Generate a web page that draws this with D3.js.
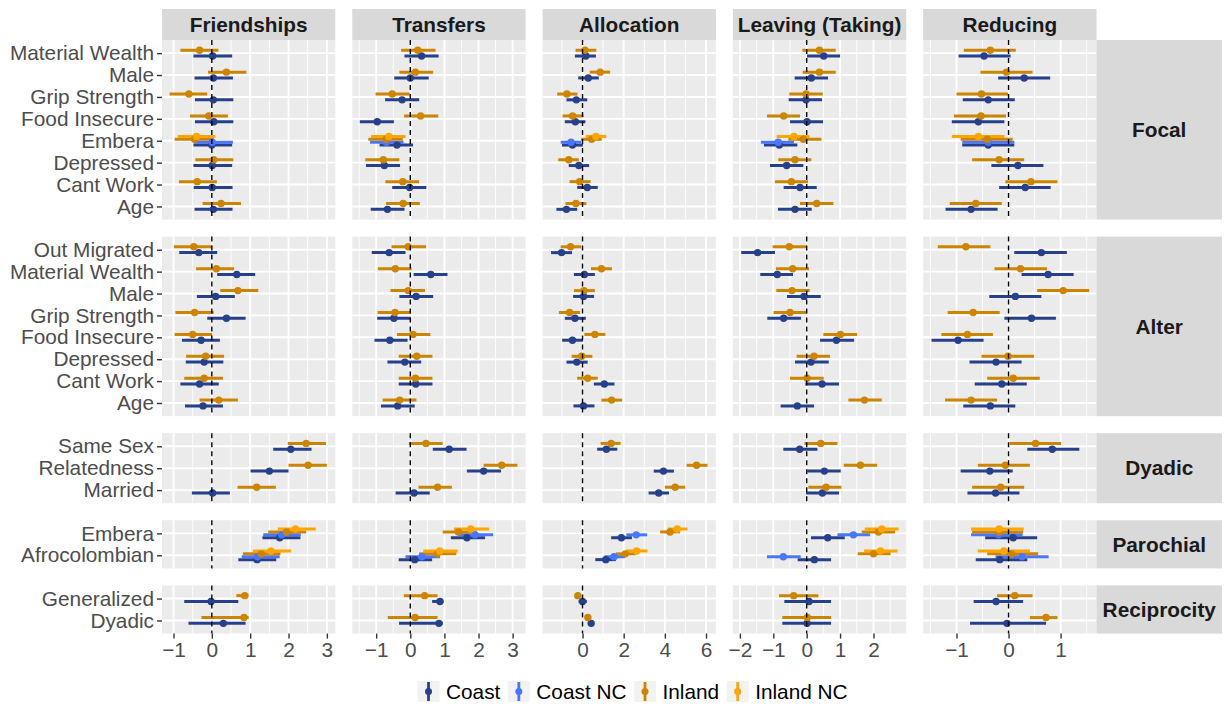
<!DOCTYPE html>
<html>
<head>
<meta charset="utf-8">
<script src="https://cdn.jsdelivr.net/npm/d3@7"></script>
<style>
body { margin: 0; background: #fff; }
text { font-family: "Liberation Sans", Arial, sans-serif; }
</style>
</head>
<body>
<svg id="chart" width="1226" height="704"></svg>
<script>
//
// data
//
var columns = ["Friendships", "Transfers", "Allocation", "Leaving (Taking)", "Reducing"];
var rowGroups = ["Focal", "Alter", "Dyadic", "Parochial", "Reciprocity"];
var focalVars = ["Material Wealth", "Male", "Grip Strength", "Food Insecure", "Embera", "Depressed", "Cant Work", "Age"];
var alterVars = ["Out Migrated", "Material Wealth", "Male", "Grip Strength", "Food Insecure", "Depressed", "Cant Work", "Age"];
var dyadicVars = ["Same Sex", "Relatedness", "Married"];
var parochialVars = ["Embera", "Afrocolombian"];
var reciprocityVars = ["Generalized", "Dyadic"];
var rowVars = [focalVars, alterVars, dyadicVars, parochialVars, reciprocityVars];
// rows that also have the "NC" series
var ncRows = [["Focal", "Embera"], ["Parochial", "Embera"], ["Parochial", "Afrocolombian"]];

var series = ["Coast", "Coast NC", "Inland", "Inland NC"];
var seriesColors = ["#27408B", "#4876FF", "#CD8500", "#FFA500"];

var xTicks = [[-1, 0, 1, 2, 3], [-1, 0, 1, 2, 3], [0, 2, 4, 6], [-2, -1, 0, 1, 2], [-1, 0, 1]];
var xDomains = [[-1.30, 3.22], [-1.70, 3.38], [-1.94, 6.48], [-2.21, 2.98], [-1.64, 1.69]];

// [estimate, lower, upper], rows in order focal, alter, dyadic, parochial, reciprocity
var friendshipsCoast = [
  [0.02,-0.48,0.53],[0.04,-0.45,0.55],[0.04,-0.44,0.56],[0.05,-0.44,0.56],[0.0,-0.48,0.53],[0.01,-0.48,0.53],[0.01,-0.47,0.54],[0.04,-0.45,0.54],
  [-0.34,-0.85,0.14],[0.65,0.14,1.13],[0.10,-0.39,0.60],[0.38,-0.12,0.88],[-0.28,-0.78,0.21],[-0.20,-0.68,0.30],[-0.32,-0.82,0.18],[-0.23,-0.70,0.29],
  [2.06,1.60,2.60],[1.50,1.01,2.00],[0.02,-0.52,0.47],
  [1.77,1.32,2.31],[1.18,0.69,1.68],
  [-0.02,-0.72,0.69],[0.30,-0.61,0.88]];
var friendshipsInland = [
  [-0.32,-0.82,0.17],[0.38,-0.10,0.90],[-0.60,-1.10,-0.12],[-0.08,-0.57,0.42],[-0.45,-0.97,0.05],[0.05,-0.43,0.56],[-0.38,-0.86,0.13],[0.24,-0.24,0.76],
  [-0.47,-0.99,0.01],[0.12,-0.41,0.58],[0.68,0.22,1.21],[-0.45,-0.95,0.05],[-0.50,-0.97,0.01],[-0.16,-0.67,0.32],[-0.20,-0.72,0.29],[0.18,-0.32,0.68],
  [2.46,1.98,2.98],[2.51,2.00,3.00],[1.17,0.67,1.67],
  [1.95,1.47,2.46],[1.29,0.81,1.79],
  [0.86,0.64,0.95],[0.84,-0.27,0.96]];
var friendshipsCoastNC = [[0.01,-0.46,0.55],[1.82,1.34,2.32],[1.19,0.78,1.77]];
var friendshipsInlandNC = [[-0.40,-0.89,0.09],[2.18,1.72,2.71],[1.54,1.07,2.07]];

var transfersCoast = [
  [0.33,-0.17,0.83],[0.0,-0.47,0.54],[-0.24,-0.74,0.26],[-0.97,-1.48,-0.48],[-0.39,-0.90,0.08],[-0.76,-1.30,-0.30],[-0.02,-0.53,0.47],[-0.67,-1.16,-0.17],
  [-0.62,-1.13,-0.14],[0.60,0.10,1.09],[0.17,-0.32,0.67],[-0.48,-0.97,0.01],[-0.60,-1.05,-0.08],[-0.16,-0.67,0.32],[0.16,-0.34,0.65],[-0.37,-0.86,0.13],
  [1.14,0.66,1.65],[2.15,1.66,2.66],[0.11,-0.43,0.57],
  [1.66,1.19,2.19],[0.13,-0.34,0.64],
  [0.87,0.64,0.97],[0.84,-0.33,0.95]];
var transfersInland = [
  [0.22,-0.27,0.74],[0.15,-0.32,0.67],[-0.53,-1.02,-0.02],[0.30,-0.18,0.82],[-0.71,-1.23,-0.22],[-0.79,-1.32,-0.32],[-0.22,-0.73,0.26],[-0.21,-0.71,0.28],
  [-0.06,-0.55,0.46],[-0.44,-0.95,0.04],[-0.06,-0.58,0.43],[-0.45,-0.96,0.02],[0.08,-0.39,0.59],[0.19,-0.34,0.65],[0.15,-0.34,0.65],[-0.31,-0.81,0.18],
  [0.46,-0.04,0.95],[2.68,2.15,3.14],[0.80,0.24,1.22],
  [1.41,0.95,1.94],[0.79,0.26,1.35],
  [0.42,-0.19,0.80],[0.14,-0.66,0.80]];
var transfersCoastNC = [[-0.70,-1.18,-0.20],[1.90,1.40,2.43],[0.34,-0.14,0.87]];
var transfersInlandNC = [[-0.63,-1.15,-0.14],[1.77,1.28,2.31],[0.86,0.38,1.39]];

var allocationCoast = [
  [0.16,-0.37,0.65],[0.28,-0.21,0.79],[-0.30,-0.78,0.23],[-0.35,-0.86,0.14],[-0.49,-1.0,0.02],[-0.18,-0.67,0.32],[0.23,-0.26,0.74],[-0.78,-1.27,-0.26],
  [-1.02,-1.53,-0.51],[0.09,-0.42,0.60],[0.05,-0.46,0.56],[-0.37,-0.86,0.16],[-0.49,-0.99,0.02],[-0.28,-0.78,0.25],[1.06,0.55,1.55],[0.05,-0.44,0.58],
  [1.16,0.71,1.69],[3.93,3.46,4.44],[3.70,3.21,4.20],
  [1.89,1.39,2.40],[1.13,0.62,1.62],
  [0.0,-0.19,0.21],[0.42,0.29,0.55]];
var allocationInland = [
  [0.12,-0.34,0.67],[0.86,0.35,1.34],[-0.76,-1.23,-0.25],[-0.48,-0.97,0.05],[0.44,-0.07,0.93],[-0.67,-1.18,-0.18],[-0.14,-0.63,0.39],[-0.32,-0.83,0.19],
  [-0.58,-1.06,-0.07],[0.92,0.41,1.43],[0.07,-0.42,0.60],[-0.63,-1.15,-0.12],[0.60,0.09,1.11],[-0.04,-0.53,0.48],[0.25,-0.26,0.74],[1.41,0.92,1.92],
  [1.39,0.88,1.85],[5.54,5.06,6.07],[4.50,4.00,4.99],
  [4.25,3.77,4.74],[2.08,1.62,2.59],
  [-0.23,-0.36,-0.09],[0.26,0.14,0.40]];
var allocationCoastNC = [[-0.56,-1.06,-0.07],[2.61,2.13,3.14],[1.53,1.06,2.06]];
var allocationInlandNC = [[0.65,0.16,1.16],[4.60,4.14,5.10],[2.63,2.13,3.16]];

var leavingCoast = [
  [0.51,0.01,1.0],[0.14,-0.36,0.64],[-0.02,-0.54,0.46],[0.01,-0.50,0.49],[-0.82,-1.28,-0.28],[-0.60,-1.10,-0.10],[-0.20,-0.69,0.30],[-0.35,-0.86,0.15],
  [-1.47,-1.96,-0.95],[-0.88,-1.39,-0.41],[-0.08,-0.59,0.42],[-0.69,-1.18,-0.17],[0.89,0.40,1.42],[0.13,-0.35,0.66],[0.46,-0.04,0.97],[-0.28,-0.78,0.22],
  [-0.21,-0.70,0.32],[0.53,0.02,1.02],[0.47,-0.02,0.97],
  [0.63,0.13,1.14],[0.23,-0.27,0.73],
  [0.07,-0.67,0.73],[0.01,-0.73,0.73]];
var leavingInland = [
  [0.38,-0.13,0.87],[0.38,-0.12,0.87],[-0.02,-0.52,0.48],[-0.69,-1.19,-0.20],[-0.10,-0.55,0.44],[-0.35,-0.85,0.14],[-0.46,-0.95,0.04],[0.30,-0.20,0.80],
  [-0.52,-1.02,-0.02],[-0.42,-0.92,0.07],[-0.44,-0.91,0.09],[-0.50,-0.99,0.01],[1.01,0.50,1.51],[0.22,-0.30,0.70],[0.01,-0.50,0.51],[1.73,1.25,2.25],
  [0.42,-0.07,0.92],[1.61,1.11,2.11],[0.58,0.05,1.04],
  [2.15,1.65,2.65],[2.00,1.53,2.51],
  [-0.39,-0.83,0.35],[0.02,-0.73,0.73]];
var leavingCoastNC = [[-0.85,-1.37,-0.38],[1.40,0.92,1.90],[-0.70,-1.19,-0.18]];
var leavingInlandNC = [[-0.38,-0.90,0.08],[2.25,1.74,2.75],[2.21,1.72,2.72]];

var reducingCoast = [
  [-0.47,-0.96,0.04],[0.30,-0.20,0.80],[-0.39,-0.88,0.12],[-0.58,-1.09,-0.08],[-0.39,-0.89,0.11],[0.18,-0.33,0.67],[0.32,-0.18,0.81],[-0.72,-1.21,-0.21],
  [0.63,0.11,1.12],[0.76,0.25,1.25],[0.13,-0.37,0.63],[0.44,-0.08,0.91],[-0.97,-1.48,-0.48],[-0.24,-0.75,0.25],[-0.13,-0.65,0.35],[-0.35,-0.87,0.13],
  [0.84,0.36,1.36],[-0.36,-0.92,0.08],[-0.25,-0.79,0.21],
  [0.09,-0.45,0.55],[-0.17,-0.63,0.36],
  [-0.24,-0.67,0.28],[-0.03,-0.74,0.72]];
var reducingInland = [
  [-0.35,-0.86,0.14],[-0.04,-0.54,0.46],[-0.52,-1.0,-0.01],[-0.53,-1.05,-0.05],[-0.41,-0.92,0.08],[-0.18,-0.70,0.30],[0.43,-0.06,0.94],[-0.63,-1.13,-0.13],
  [-0.82,-1.36,-0.35],[0.23,-0.27,0.74],[1.05,0.55,1.55],[-0.68,-1.17,-0.17],[-0.79,-1.29,-0.30],[-0.01,-0.52,0.49],[0.09,-0.41,0.60],[-0.72,-1.22,-0.22],
  [0.52,0.02,1.01],[-0.06,-0.59,0.41],[-0.15,-0.70,0.30],
  [-0.18,-0.70,0.28],[0.06,-0.41,0.57],
  [0.12,-0.22,0.46],[0.72,0.41,0.94]];
var reducingCoastNC = [[-0.39,-0.89,0.11],[-0.19,-0.72,0.27],[0.26,-0.25,0.77]];
var reducingInlandNC = [[-0.58,-1.09,-0.08],[-0.18,-0.72,0.29],[-0.09,-0.59,0.41]];

var columnData = [
  [friendshipsCoast, friendshipsCoastNC, friendshipsInland, friendshipsInlandNC],
  [transfersCoast, transfersCoastNC, transfersInland, transfersInlandNC],
  [allocationCoast, allocationCoastNC, allocationInland, allocationInlandNC],
  [leavingCoast, leavingCoastNC, leavingInland, leavingInlandNC],
  [reducingCoast, reducingCoastNC, reducingInland, reducingInlandNC]
];

//
// layout
//
var panelLeft = 162, panelW = 173.3, gapX = 17;
var panelTop = 40, unit = 21.9, gapY = 17;
var stripTop = 9, stripW = 125.5;
var dodgeWidth = 0.53;
var fontSize = 20.8;

var allRows = [];
rowGroups.forEach(function(g, gi) {
  rowVars[gi].forEach(function(v) { allRows.push([g, v]); });
});

// flatten into records
var records = [];
columnData.forEach(function(sets, ci) {
  sets.forEach(function(arr, si) {
    var keys = series[si].indexOf("NC") >= 0 ? ncRows : allRows;
    arr.forEach(function(d, i) {
      records.push({ col: ci, series: si, group: keys[i][0], v: keys[i][1], est: d[0], lo: d[1], hi: d[2] });
    });
  });
});

var groupCount = d3.rollup(records, function(a) { return a.length; },
  function(d) { return d.col + "|" + d.group + "|" + d.v; });

// x scales per column
var xScales = columns.map(function(c, ci) {
  var x0 = panelLeft + ci * (panelW + gapX);
  return d3.scaleLinear().domain(xDomains[ci]).range([x0, x0 + panelW]);
});

// y scales per row group
var yScales = [];
var yCursor = panelTop;
rowGroups.forEach(function(g, gi) {
  var n = rowVars[gi].length;
  var h = (n - 1 + 1.2) * unit;
  yScales.push(d3.scalePoint().domain(rowVars[gi]).range([yCursor, yCursor + h]).padding(0.6));
  yCursor += h + gapY;
});

var svg = d3.select("#chart");

//
// strips on top
//
columns.forEach(function(c, ci) {
  var r = xScales[ci].range();
  svg.append("rect")
    .attr("x", r[0]).attr("y", stripTop)
    .attr("width", r[1] - r[0]).attr("height", panelTop - stripTop)
    .attr("fill", "#d9d9d9");
  svg.append("text")
    .attr("x", (r[0] + r[1]) / 2).attr("y", (stripTop + panelTop) / 2)
    .attr("dy", "0.35em")
    .attr("text-anchor", "middle")
    .attr("font-size", fontSize).attr("font-weight", "bold")
    .attr("fill", "#1a1a1a")
    .text(c);
});

//
// panels
//
rowGroups.forEach(function(g, gi) {
  var y = yScales[gi];
  var yr = y.range();

  columns.forEach(function(c, ci) {
    var x = xScales[ci];
    var xr = x.range();
    var p = svg.append("g");

    p.append("rect")
      .attr("x", xr[0]).attr("y", yr[0])
      .attr("width", xr[1] - xr[0]).attr("height", yr[1] - yr[0])
      .attr("fill", "#ebebeb");

    // minor grid
    var ticks = xTicks[ci];
    var step = ticks[1] - ticks[0];
    var minor = [ticks[0] - step / 2].concat(ticks.map(function(t) { return t + step / 2; }))
      .filter(function(t) { return t > xDomains[ci][0] && t < xDomains[ci][1]; });
    p.selectAll(".minor").data(minor).enter().append("line")
      .attr("x1", function(d) { return x(d); }).attr("x2", function(d) { return x(d); })
      .attr("y1", yr[0]).attr("y2", yr[1])
      .attr("stroke", "#fff").attr("stroke-width", 0.9);

    // major grid
    p.selectAll(".major").data(ticks).enter().append("line")
      .attr("x1", function(d) { return x(d); }).attr("x2", function(d) { return x(d); })
      .attr("y1", yr[0]).attr("y2", yr[1])
      .attr("stroke", "#fff").attr("stroke-width", 1.9);
    p.selectAll(".hmajor").data(rowVars[gi]).enter().append("line")
      .attr("x1", xr[0]).attr("x2", xr[1])
      .attr("y1", function(d) { return y(d); }).attr("y2", function(d) { return y(d); })
      .attr("stroke", "#fff").attr("stroke-width", 1.9);

    var pts = records.filter(function(d) { return d.col === ci && d.group === g; });
    // dodge: first series sits lowest
    var yPos = function(d) {
      var n = groupCount.get(ci + "|" + g + "|" + d.v);
      var k = n === 2 ? (d.series >= 2 ? 1 : 0) : d.series;
      var w = dodgeWidth * y.step();
      return y(d.v) + ((n - 1) / 2 - k) * (w / n);
    };

    p.selectAll(".range").data(pts).enter().append("line")
      .attr("x1", function(d) { return x(d.lo); }).attr("x2", function(d) { return x(d.hi); })
      .attr("y1", yPos).attr("y2", yPos)
      .attr("stroke", function(d) { return seriesColors[d.series]; })
      .attr("stroke-width", 3);
    p.selectAll(".pt").data(pts).enter().append("circle")
      .attr("cx", function(d) { return x(d.est); })
      .attr("cy", yPos)
      .attr("r", 3.7)
      .attr("fill", function(d) { return seriesColors[d.series]; });

    // zero line
    p.append("line")
      .attr("x1", x(0)).attr("x2", x(0))
      .attr("y1", yr[0]).attr("y2", yr[1])
      .attr("stroke", "#000").attr("stroke-width", 1.4)
      .attr("stroke-dasharray", "5,4");
  });

  // right strip
  var sx = xScales[columns.length - 1].range()[1];
  svg.append("rect")
    .attr("x", sx).attr("y", yr[0])
    .attr("width", stripW).attr("height", yr[1] - yr[0])
    .attr("fill", "#d9d9d9");
  svg.append("text")
    .attr("x", sx + stripW / 2).attr("y", (yr[0] + yr[1]) / 2)
    .attr("dy", "0.35em")
    .attr("text-anchor", "middle")
    .attr("font-size", fontSize).attr("font-weight", "bold")
    .attr("fill", "#1a1a1a")
    .text(g);

  // y axis
  var ax = svg.append("g").attr("transform", "translate(" + panelLeft + ",0)")
    .call(d3.axisLeft(y).tickSize(5).tickPadding(3));
  ax.select(".domain").remove();
  ax.selectAll(".tick line").attr("stroke", "#333").attr("stroke-width", 1.4);
  ax.selectAll(".tick text")
    .attr("font-size", fontSize).attr("fill", "#4d4d4d")
    .attr("font-family", "Liberation Sans, Arial, sans-serif");
});

//
// x axes
//
var bottom = yScales[yScales.length - 1].range()[1];
columns.forEach(function(c, ci) {
  var ax = svg.append("g").attr("transform", "translate(0," + bottom + ")")
    .call(d3.axisBottom(xScales[ci]).tickValues(xTicks[ci]).tickSize(5).tickPadding(4)
      .tickFormat(function(d) { return d < 0 ? "\u2212" + Math.abs(d) : d; }));
  ax.select(".domain").remove();
  ax.selectAll(".tick line").attr("stroke", "#333").attr("stroke-width", 1.4);
  ax.selectAll(".tick text")
    .attr("font-size", fontSize).attr("fill", "#4d4d4d")
    .attr("font-family", "Liberation Sans, Arial, sans-serif");
});

//
// legend
//
var lx = 417.5, ly = 681, keyW = 22, keyH = 21;
series.forEach(function(s, si) {
  svg.append("rect")
    .attr("x", lx).attr("y", ly).attr("width", keyW).attr("height", keyH)
    .attr("fill", "#f2f2f2");
  svg.append("line")
    .attr("x1", lx + keyW / 2).attr("x2", lx + keyW / 2)
    .attr("y1", ly + 1).attr("y2", ly + keyH - 1)
    .attr("stroke", seriesColors[si]).attr("stroke-width", 2.8);
  svg.append("circle")
    .attr("cx", lx + keyW / 2).attr("cy", ly + keyH / 2).attr("r", 3.5)
    .attr("fill", seriesColors[si]);
  var t = svg.append("text")
    .attr("x", lx + keyW + 6.5).attr("y", ly + keyH / 2)
    .attr("dy", "0.35em")
    .attr("font-size", fontSize).attr("fill", "#000")
    .text(s);
  lx += keyW + 6.5 + t.node().getComputedTextLength() + 7.5;
});
</script>
</body>
</html>
